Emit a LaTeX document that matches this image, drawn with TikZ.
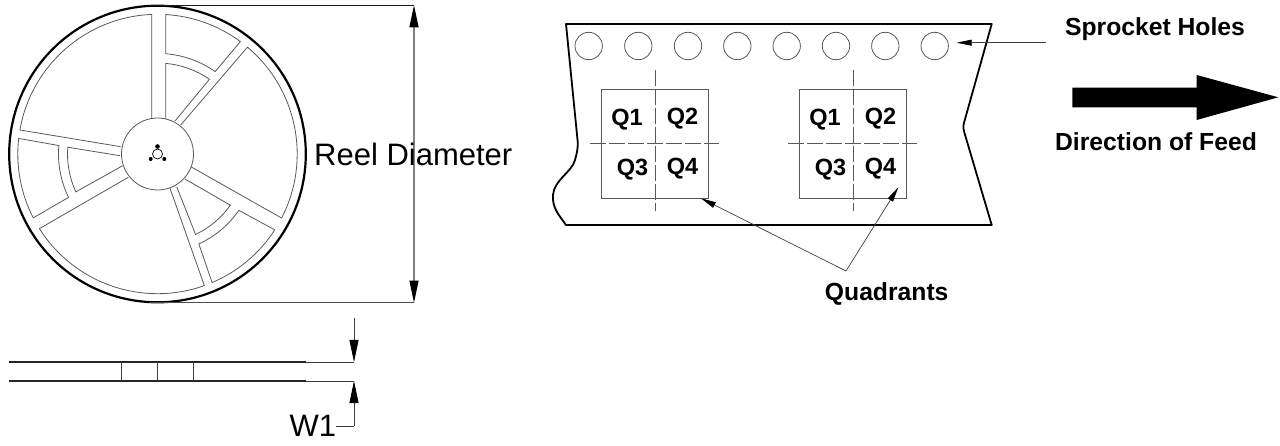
\documentclass[tikz,border=0pt]{standalone}
\usepackage{fontspec}
\setmainfont{Liberation Sans}
\usetikzlibrary{arrows.meta}
\tikzset{
  thin line/.style={draw=black!65,line width=0.8pt},
  dim line/.style={draw=black!75,line width=0.8pt},
  heavy/.style={draw=black,line width=1.8pt,line join=round},
  lbl/.style={font=\fontsize{24.7}{28}\selectfont\bfseries,inner sep=0pt},
  qlbl/.style={font=\fontsize{23.5}{28}\selectfont\bfseries,inner sep=0pt},
  reg/.style={font=\fontsize{31}{34}\selectfont,inner sep=0pt},
  bigtip/.style={-{Triangle[length=22pt,width=9pt,color=black,fill=black]}},
  smalltip/.style={-{Triangle[length=15pt,width=6pt,color=black,fill=black]}},
  dashline/.style={draw=black!65,line width=0.8pt,dash pattern=on 16pt off 3pt},
}
\begin{document}
\begin{tikzpicture}[x=1pt,y=-1pt]
\useasboundingbox (0,0) rectangle (1280,446);
% Reel
\coordinate (rc) at (157.5,154);
\begin{scope}[shift={(rc)},x=1pt,y=1pt]
\draw[black,line width=2.2pt] (0,0) circle (148.3pt);
\draw[thin line,line join=round] (-5.8,35) -- (92.4:139.7pt) arc[start angle=92.4,end angle=170.1,radius=139.7pt] -- (-36.8,7.3);
\draw[thin line] (86.65:139.7pt) arc[start angle=86.65,end angle=53.6,radius=139.7pt] -- (55:100.6pt) arc[start angle=55,end angle=85.3,radius=100.6pt] -- cycle;
\draw[thin line] (8.2,35) -- (84.85:91pt) arc[start angle=84.85,end angle=55.2,radius=91pt] -- (17.5,33);
\draw[thin line] (23.2,29) -- (49.9:139.7pt) arc[start angle=49.9,end angle=-27.3,radius=139.7pt] -- (33,-12.5);
\draw[thin line] (-32.9:139.7pt) arc[start angle=-32.9,end angle=-67,radius=139.7pt] -- (-65.3:99pt) arc[start angle=-65.3,end angle=-34.7,radius=99pt] -- cycle;
\draw[thin line] (27.5,-25) -- (-35.1:89pt) arc[start angle=-35.1,end angle=-64.7,radius=89pt] -- (19.2,-32.7);
\draw[thin line] (12.5,-34.3) -- (-70.4:139.7pt) arc[start angle=-70.4,end angle=-147.7,radius=139.7pt] -- (-29.2,-23.3);
\draw[thin line] (173.6:139.7pt) arc[start angle=173.6,end angle=207.2,radius=139.7pt] -- (206:99pt) arc[start angle=206,end angle=175.1,radius=99pt] -- cycle;
\draw[thin line] (-37.5,-1.7) -- (175.7:90pt) arc[start angle=175.7,end angle=204.9,radius=90pt] -- (-34.8,-11.7);
\draw[thin line,fill=white] (0,0) circle (36pt);
\draw[black,line width=0.7pt] (0,0) circle (5pt);
\fill (0,7.5) circle (2.3pt) (-6.8,-5) circle (2pt) (6.8,-5) circle (2pt);
\end{scope}
% Dimension: reel diameter
\coordinate (dt) at (414,5.3);
\coordinate (db) at (414,302.7);
\coordinate (rt) at (150,5.3);
\coordinate (rb) at (150,302.7);
\draw[draw=black!90,line width=0.8pt] (rt) -- (dt);
\draw[draw=black!70,line width=0.8pt] (rb) -- (db);
\draw[draw=black!50,line width=1.2pt,{Triangle[length=22pt,width=9pt,color=black,fill=black]}-{Triangle[length=22pt,width=9pt,color=black,fill=black]}] (dt) -- (db);
\node[reg,anchor=base west] (rd) at (314,166) {Reel Diameter};
% Side view
\coordinate (sl1) at (9,362);
\coordinate (sr1) at (306,362);
\coordinate (sl2) at (9,381);
\coordinate (sr2) at (306,381);
\coordinate (e1) at (354,362);
\coordinate (e2) at (354,381);
\coordinate (a1) at (354,318);
\coordinate (w) at (354,426);
\draw[black!85,line width=1.3pt] (sl1) -- (sr1) (sl2) -- (sr2);
\draw[dim line] (sr1) -- (e1) (sr2) -- (e2);
\foreach \xx in {121,157,193}{\draw[dim line] (\xx,362) -- (\xx,381);}
\node[reg,anchor=base west] (w1) at (289.5,436) {W1};
\draw[dim line,bigtip] (a1) -- (e1);
\draw[dim line,bigtip] (w) -- (e2);
\draw[dim line] (w1.east |- w) -- (w);
% Tape
\draw[heavy] (566,24) -- (991.7,24) -- (964.5,121) .. controls (963,126) and (963,128) .. (964.5,133) -- (991.7,225) -- (566,225)
  .. controls (559,215) and (552,208) .. (553,195) .. controls (554,180) and (572,172) .. (575,160) .. controls (577,153) and (578,148) .. (577.7,141.7) -- cycle;
\foreach \hx [count=\i] in {588.7,638.3,688,737.3,786.7,836,885.3,934.7}{
  \node[draw=black!65,line width=0.8pt,circle,minimum size=27.4pt,inner sep=0pt] (h\i) at (\hx,46) {};
}
\foreach \bx/\n in {601.3/a,799.3/b}{
  \draw[thin line] (\bx,89.7) rectangle ++(107.2,108.6);
  \draw[dashline] (\bx+53.7,70) -- (\bx+53.7,211);
  \draw[dashline] (\bx-11.3,143.3) -- (\bx+117.7,143.3);
  \node[qlbl] (q1\n) at (\bx+25.7,119.2) {Q1};
  \node[qlbl] (q2\n) at (\bx+81.2,118.5) {Q2};
  \node[qlbl] (q3\n) at (\bx+31.2,169.8) {Q3};
  \node[qlbl] (q4\n) at (\bx+81.2,168.5) {Q4};
}
% Leaders
\node[lbl] (quad) at (886.7,293.5) {Quadrants};
\coordinate (apex) at (846,271);
\coordinate (qa) at (701,198.3);
\coordinate (qb) at (898.3,187.3);
\draw[dim line,line width=0.7pt,smalltip] (apex) -- (qa);
\draw[dim line,line width=0.7pt,smalltip] (apex) -- (qb);
\node[lbl] (sh) at (1155,29) {Sprocket Holes};
\coordinate (s0) at (1045.7,42.7);
\coordinate (s1) at (956.7,42.7);
\draw[dim line,smalltip] (s0) -- (s1);
\fill[black] (1072.3,87.7) -- (1196.7,87.7) -- (1196.7,75) -- (1278.3,97.3) -- (1196.7,120) -- (1196.7,107.3) -- (1072.3,107.3) -- cycle;
\node[lbl] (df) at (1156,142) {Direction of Feed};
\end{tikzpicture}
\end{document}
